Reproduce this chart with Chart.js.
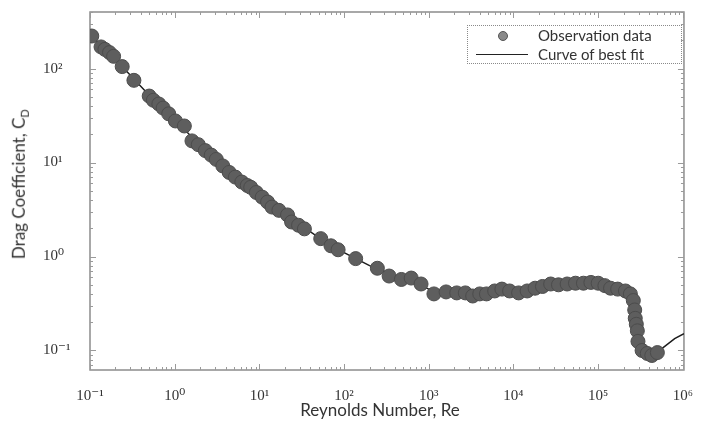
<!DOCTYPE html>
<html>
<head>
<meta charset="utf-8">
<script src="https://cdn.jsdelivr.net/npm/chart.js@4.4.1/dist/chart.umd.min.js"></script>
<style>
  html, body { margin: 0; padding: 0; background: #fff; }
  #wrap { position: relative; width: 702px; height: 425px; font-family: Lato, "Open Sans", sans-serif; color: #333; }
  #chart { position: absolute; left: 0; top: 0; }
  .ytitle { position: absolute; left: -88px; top: 170px; width: 220px; text-align: center; font-size: 17px; line-height: 22px; transform: rotate(-90deg); }
  .xtitle { position: absolute; left: 270px; top: 399px; width: 220px; text-align: center; font-size: 17px; line-height: 22px; }
  .legend { position: absolute; left: 467px; top: 25px; width: 213px; height: 37px; border: 1px dotted #8a8a8a; font-size: 15px; line-height: 18px; }
  .legend .row { position: absolute; left: 70px; }
  .legend .dot { position: absolute; left: 30px; top: 5px; width: 10px; height: 10px; border-radius: 50%; background: #8a8a8a; border: 1px solid #555; box-sizing: border-box; }
  .legend .ln { position: absolute; left: 8px; top: 28px; width: 52px; height: 0; border-top: 1.5px solid #222; }
</style>
</head>
<body>
<div id="wrap">
  <canvas id="chart" width="702" height="425"></canvas>
  <div class="ytitle">Drag Coefficient, C<sub style="font-size:11px">D</sub></div>
  <div class="xtitle">Reynolds Number, Re</div>
  <div class="legend">
    <span class="dot"></span>
    <span class="row" style="top:0px">Observation data</span>
    <span class="ln"></span>
    <span class="row" style="top:19px">Curve of best fit</span>
  </div>
</div>
<script>
// ===== データ =====
const obsRe = [0.105, 0.135, 0.15, 0.17, 0.19, 0.24, 0.33, 0.5, 0.56, 0.65, 0.73, 0.85, 1.02, 1.3, 1.6, 1.9, 2.3, 2.7, 3.1, 3.7,
  4.4, 5.2, 6.2, 7.2, 7.9, 9.2, 10.8, 12.5, 14.1, 17, 21.5, 24, 29, 34, 53, 70, 85, 137, 247, 340,
  475, 620, 810, 1150, 1600, 2140, 2700, 3300, 4000, 4800, 6000, 7300, 9000, 11500, 14500, 18000, 22000, 27500, 34000, 43000,
  54000, 67000, 82000, 100000, 120000, 140000, 170000, 210000, 240000, 260000, 270000, 274000, 282000, 290000, 295000, 330000, 380000, 430000, 500000];
const obsCd = [222, 170, 160, 148, 135, 105, 75, 51, 46, 42, 38, 33, 27.7, 24.5, 17, 15.5, 13.4, 12, 10.8, 9.2,
  7.85, 7.0, 6.2, 5.7, 5.45, 4.8, 4.28, 3.8, 3.36, 3.1, 2.77, 2.33, 2.15, 1.97, 1.55, 1.3, 1.18, 0.95, 0.75, 0.62,
  0.57, 0.59, 0.51, 0.40, 0.42, 0.41, 0.41, 0.38, 0.40, 0.40, 0.43, 0.45, 0.43, 0.41, 0.43, 0.46, 0.48, 0.51, 0.50, 0.51,
  0.52, 0.52, 0.53, 0.52, 0.49, 0.46, 0.45, 0.43, 0.40, 0.34, 0.27, 0.22, 0.19, 0.162, 0.125, 0.10, 0.093, 0.0885, 0.095];

const fitRe = [0.1, 0.2, 0.5, 1, 2, 5, 10, 20, 50, 100, 200, 500, 1000, 2000, 5000, 10000, 20000, 50000, 100000,
  200000, 250000, 270000, 280000, 300000, 350000, 450000, 550000, 800000, 1030000];
const fitCd = [230, 125, 52, 29, 15, 7.2, 4.5, 2.8, 1.6, 1.1, 0.8, 0.58, 0.45, 0.41, 0.41, 0.43, 0.47, 0.51, 0.52,
  0.45, 0.40, 0.30, 0.20, 0.12, 0.098, 0.092, 0.103, 0.134, 0.151];

const xTicks = [0.1, 1, 10, 100, 1000, 10000, 100000, 1000000];
const xTickLabels = ['10⁻¹', '10⁰', '10¹', '10²', '10³', '10⁴', '10⁵', '10⁶'];
const yTicks = [0.1, 1, 10, 100];
const yTickLabels = ['10⁻¹', '10⁰', '10¹', '10²'];

// ===== 枠と内向き目盛り =====
const frameTicks = {
  id: 'frameTicks',
  beforeDatasetsDraw(chart) {
    const { ctx, chartArea: a, scales: { x, y } } = chart;
    ctx.save();
    ctx.strokeStyle = '#8c8c8c';
    ctx.lineWidth = 1.5;
    ctx.strokeRect(a.left, a.top, a.right - a.left, a.bottom - a.top);
    ctx.lineWidth = 1;
    ctx.strokeStyle = '#9a9a9a';
    ctx.beginPath();
    for (let e = -2; e <= 6; e++) {
      for (let m = 1; m <= 9; m++) {
        const v = m * Math.pow(10, e);
        const len = m === 1 ? 6 : 3;
        if (v >= x.min && v <= x.max) {
          const px = Math.round(x.getPixelForValue(v)) + 0.5;
          ctx.moveTo(px, a.bottom); ctx.lineTo(px, a.bottom - len);
          ctx.moveTo(px, a.top); ctx.lineTo(px, a.top + len);
        }
        if (v >= y.min && v <= y.max) {
          const py = Math.round(y.getPixelForValue(v)) + 0.5;
          ctx.moveTo(a.left, py); ctx.lineTo(a.left + len, py);
          ctx.moveTo(a.right, py); ctx.lineTo(a.right - len, py);
        }
      }
    }
    ctx.stroke();
    ctx.restore();
  }
};

const tickFont = { family: '"Liberation Serif", "DejaVu Serif", serif', size: 15 };

new Chart(document.getElementById('chart'), {
  type: 'scatter',
  data: {
    datasets: [
      {
        label: 'Observation data',
        data: obsRe.map((v, i) => ({ x: v, y: obsCd[i] })),
        pointRadius: 7,
        pointBackgroundColor: '#5e5e5e',
        pointBorderColor: '#4c4c4c',
        pointBorderWidth: 1
      },
      {
        label: 'Curve of best fit',
        data: fitRe.map((v, i) => ({ x: v, y: fitCd[i] })),
        showLine: true,
        pointRadius: 0,
        borderColor: '#1c1c1c',
        borderWidth: 1.5,
        tension: 0
      }
    ]
  },
  options: {
    responsive: false,
    animation: false,
    layout: { padding: { left: 43, top: 8, right: 4, bottom: 0 } },
    plugins: { legend: { display: false }, tooltip: { enabled: false } },
    scales: {
      x: {
        type: 'logarithmic',
        min: 0.1,
        max: 1030000,
        grid: { display: false },
        border: { display: false },
        afterBuildTicks: s => { s.ticks = xTicks.map(v => ({ value: v })); },
        afterFit: s => { s.height = 55; },
        ticks: { callback: (v, i) => xTickLabels[i], color: '#333', font: tickFont, padding: 9, maxRotation: 0, autoSkip: false }
      },
      y: {
        type: 'logarithmic',
        min: 0.062,
        max: 400,
        grid: { display: false },
        border: { display: false },
        afterBuildTicks: s => { s.ticks = yTicks.map(v => ({ value: v })); },
        afterFit: s => { s.width = 47; },
        ticks: { callback: (v, i) => yTickLabels[i], color: '#333', font: tickFont, crossAlign: 'far', autoSkip: false }
      }
    }
  },
  plugins: [frameTicks]
});
</script>
</body>
</html>
